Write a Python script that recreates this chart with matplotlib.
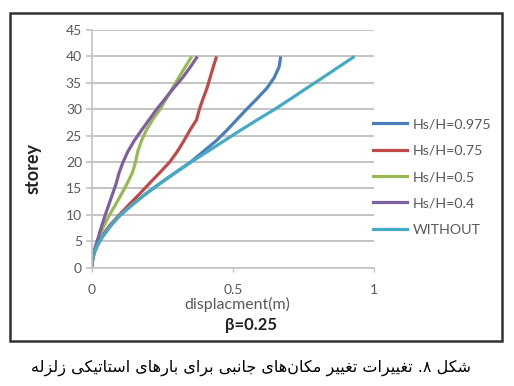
import matplotlib
matplotlib.use('Agg')
from matplotlib import pyplot as plt
from matplotlib.patches import Rectangle
from matplotlib.lines import Line2D

# storey levels and lateral displacement (m)
storey = [0, 1, 2, 3, 4, 5, 6, 7, 8, 9, 10, 12, 14, 16, 18, 20,
          22, 24, 26, 28, 30, 32, 34, 36, 38, 40]

disp_0975 = [0, 0.002, 0.005, 0.010, 0.018, 0.028, 0.040, 0.054, 0.068, 0.084, 0.102,
             0.145, 0.192, 0.243, 0.296, 0.350, 0.395, 0.440, 0.478, 0.513, 0.548,
             0.585, 0.620, 0.646, 0.663, 0.669]
disp_075 = [0, 0.002, 0.005, 0.010, 0.018, 0.027, 0.038, 0.050, 0.064, 0.081, 0.098,
            0.133, 0.170, 0.205, 0.241, 0.276, 0.303, 0.326, 0.347, 0.371, 0.381,
            0.394, 0.408, 0.419, 0.430, 0.442]
disp_05 = [0, 0.002, 0.005, 0.009, 0.015, 0.021, 0.028, 0.036, 0.044, 0.053, 0.063,
           0.085, 0.106, 0.126, 0.144, 0.155, 0.163, 0.176, 0.193, 0.215, 0.242,
           0.264, 0.286, 0.308, 0.331, 0.354]
disp_04 = [0, 0.001, 0.004, 0.008, 0.013, 0.019, 0.025, 0.030, 0.036, 0.042, 0.048,
           0.061, 0.074, 0.087, 0.097, 0.111, 0.128, 0.150, 0.176, 0.203, 0.230,
           0.260, 0.290, 0.322, 0.349, 0.374]
disp_without = [0, 0.002, 0.005, 0.010, 0.018, 0.028, 0.040, 0.054, 0.068, 0.084, 0.102,
                0.145, 0.192, 0.243, 0.296, 0.352, 0.410, 0.468, 0.526, 0.586, 0.648,
                0.705, 0.761, 0.818, 0.874, 0.930]

labels = ['Hs/H=0.975', 'Hs/H=0.75', 'Hs/H=0.5', 'Hs/H=0.4', 'WITHOUT']
colors = ['#4A7EBB', '#BE4B48', '#98B954', '#7D60A0', '#46AAC5']
series = [disp_0975, disp_075, disp_05, disp_04, disp_without]

yticks = list(range(0, 50, 5))
xticks = [0, 0.5, 1]

caption = 'شکل ۸. تغییرات تغییر مکان\u200cهای جانبی برای بارهای استاتیکی زلزله'

# simple arabic/persian shaping (matplotlib has no text shaping)
FORMS = {
    'ا': ('\uFE8D', '\uFE8E', None, None),
    'ب': ('\uFE8F', '\uFE90', '\uFE91', '\uFE92'),
    'ت': ('\uFE95', '\uFE96', '\uFE97', '\uFE98'),
    'ج': ('\uFE9D', '\uFE9E', '\uFE9F', '\uFEA0'),
    'ر': ('\uFEAD', '\uFEAE', None, None),
    'ز': ('\uFEAF', '\uFEB0', None, None),
    'س': ('\uFEB1', '\uFEB2', '\uFEB3', '\uFEB4'),
    'ش': ('\uFEB5', '\uFEB6', '\uFEB7', '\uFEB8'),
    'غ': ('\uFECD', '\uFECE', '\uFECF', '\uFED0'),
    'ل': ('\uFEDD', '\uFEDE', '\uFEDF', '\uFEE0'),
    'م': ('\uFEE1', '\uFEE2', '\uFEE3', '\uFEE4'),
    'ن': ('\uFEE5', '\uFEE6', '\uFEE7', '\uFEE8'),
    'ه': ('\uFEE9', '\uFEEA', '\uFEEB', '\uFEEC'),
    'ک': ('\uFB8E', '\uFB8F', '\uFB90', '\uFB91'),
    'ی': ('\uFBFC', '\uFBFD', '\uFBFE', '\uFBFF'),
}

def shape(text):
    out = []
    for i, c in enumerate(text):
        if c == '\u200c':
            continue
        if c not in FORMS:
            out.append(c)
            continue
        prev = text[i - 1] if i > 0 else ''
        nxt = text[i + 1] if i + 1 < len(text) else ''
        join_prev = prev in FORMS and FORMS[prev][2] is not None
        join_next = nxt in FORMS and FORMS[c][2] is not None
        iso, fin, ini, med = FORMS[c]
        if join_prev and join_next:
            out.append(med)
        elif join_prev:
            out.append(fin)
        elif join_next:
            out.append(ini)
        else:
            out.append(iso)
    return ''.join(reversed(out))


W, H = 514, 386
fig = plt.figure(figsize=(W / 100, H / 100), dpi=100)
ax = fig.add_axes([91.7 / W, (H - 267.7) / H, 282.6 / W, 237.7 / H])

for vals, lab, col in zip(series, labels, colors):
    ax.plot(vals, storey, color=col, lw=2.3, label=lab, solid_capstyle='butt')

grid_col = '#C4C4C4'
ax.set_xlim(0, 1)
ax.set_ylim(0, 45)
ax.set_yticks(yticks)
ax.set_xticks(xticks)
ax.set_xticklabels(['0', '0.5', '1'])
ax.yaxis.grid(True, color=grid_col, lw=1.4)
ax.set_axisbelow(True)
for s in ['top', 'right']:
    ax.spines[s].set_visible(False)
for s in ['left', 'bottom']:
    ax.spines[s].set_color(grid_col)
    ax.spines[s].set_linewidth(1.2)
ax.tick_params(axis='y', length=4, width=1.2, color=grid_col, pad=3,
               labelsize=10, labelcolor='#595959')
ax.tick_params(axis='x', length=3, width=1.0, color=grid_col, pad=9,
               labelsize=10, labelcolor='#595959')
for t in ax.get_xticklabels() + ax.get_yticklabels():
    t.set_family('Lato')

fig.text(237 / W, 1 - 304 / H, 'displacment(m)', ha='center', va='center',
         fontsize=11.5, color='#595959', family='Lato')
fig.text(251 / W, 1 - 325 / H, 'β=0.25', ha='center', va='center',
         fontsize=12, fontweight='bold', color='#222222', family='Lato')
fig.text(33 / W, 1 - 168 / H, 'storey', ha='center', va='center', rotation=90,
         fontsize=13, fontweight='bold', color='#222222', family='Lato')

handles = [Line2D([], [], color=c, lw=2.3) for c in colors]
fig.legend(handles, labels, loc='center left',
           bbox_to_anchor=(373 / W, 1 - 177 / H), bbox_transform=fig.transFigure,
           frameon=False, borderpad=0, borderaxespad=0, handlelength=2.4,
           handletextpad=0.35, labelspacing=1.0,
           prop={'family': 'Lato', 'size': 10.3}, labelcolor='#595959')

fig.patches.append(Rectangle((10 / W, 1 - 341 / H), 492 / W, 328 / H,
                             transform=fig.transFigure, fill=False,
                             edgecolor='#333333', lw=1.8))

fig.text(251 / W, 1 - 368 / H, shape(caption), ha='center', va='center',
         fontsize=11.5, color='black', family='DejaVu Sans')

fig.savefig('out.png', dpi=100)
